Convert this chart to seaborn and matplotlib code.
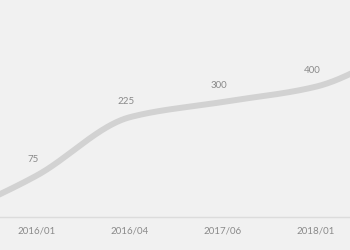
import numpy as np
import pandas as pd
import matplotlib
matplotlib.use("Agg")
import matplotlib.pyplot as plt
import seaborn as sns

# ---- data (first / last categories lie outside the visible crop) ----
dates = ["", "2016/01", "2016/04", "2017/06", "2018/01", ""]
values = [32, 75, 225, 300, 400, 900]
shown = [False, True, True, True, True, False]

BG = "#f1f1f1"
LINE = "#d2d2d2"
TEXT = "#8a8a8a"

sns.set_theme(style="white")
plt.rcParams["font.family"] = ["Lato", "DejaVu Sans"]

pos = np.arange(len(dates)) - 1.0
logv = np.log(np.asarray(values, dtype=float))


def pchip(x, y, xs):
    """Monotone cubic smoothing used only for drawing the smooth line."""
    h = np.diff(x)
    d = np.diff(y) / h
    m = np.zeros_like(y)
    m[0], m[-1] = d[0], d[-1]
    for k in range(1, len(y) - 1):
        if d[k - 1] * d[k] > 0:
            m[k] = 2.0 / (1.0 / d[k - 1] + 1.0 / d[k])
    out = np.empty_like(xs)
    for i, xv in enumerate(xs):
        k = min(np.searchsorted(x, xv, side="right") - 1, len(x) - 2)
        t = (xv - x[k]) / h[k]
        h00 = 2 * t**3 - 3 * t**2 + 1
        h10 = t**3 - 2 * t**2 + t
        h01 = -2 * t**3 + 3 * t**2
        h11 = t**3 - t**2
        out[i] = h00 * y[k] + h10 * h[k] * m[k] + h01 * y[k + 1] + h11 * h[k] * m[k + 1]
    return out


xs = np.linspace(pos[0], pos[-1], 400)
smooth = pd.DataFrame({"pos": xs, "value": np.exp(pchip(pos, logv, xs))})

fig = plt.figure(figsize=(3.5, 2.5), dpi=100, facecolor=BG)
ax = fig.add_axes([0, 0.132, 1, 0.868])
ax.set_facecolor(BG)

sns.lineplot(data=smooth, x="pos", y="value", estimator=None, sort=False,
             color=LINE, linewidth=4.3, ax=ax, solid_capstyle="round")

ax.set_yscale("log")
ax.set_ylim(34.2, 2052)
ax.set_xlim(-37 / 93, 313 / 93)

for p, v, s in zip(pos, values, shown):
    if s:
        ax.annotate(f"{v}", (p, v), xytext=(-4, 16), textcoords="offset pixels",
                    ha="center", va="center", fontsize=7, color=TEXT)

vis_pos = [p for p, s in zip(pos, shown) if s]
vis_lab = [d for d, s in zip(dates, shown) if s]
ax.set_xticks(vis_pos)
ax.set_xticklabels(vis_lab)
ax.tick_params(axis="x", length=0, pad=6.5, labelsize=7, labelcolor=TEXT)
ax.yaxis.set_visible(False)
ax.minorticks_off()
ax.set_xlabel("")
ax.set_ylabel("")
for side in ["top", "left", "right"]:
    ax.spines[side].set_visible(False)
ax.spines["bottom"].set_color("#dcdcdc")
ax.spines["bottom"].set_linewidth(1)

fig.savefig("out.png", dpi=100, facecolor=BG)
